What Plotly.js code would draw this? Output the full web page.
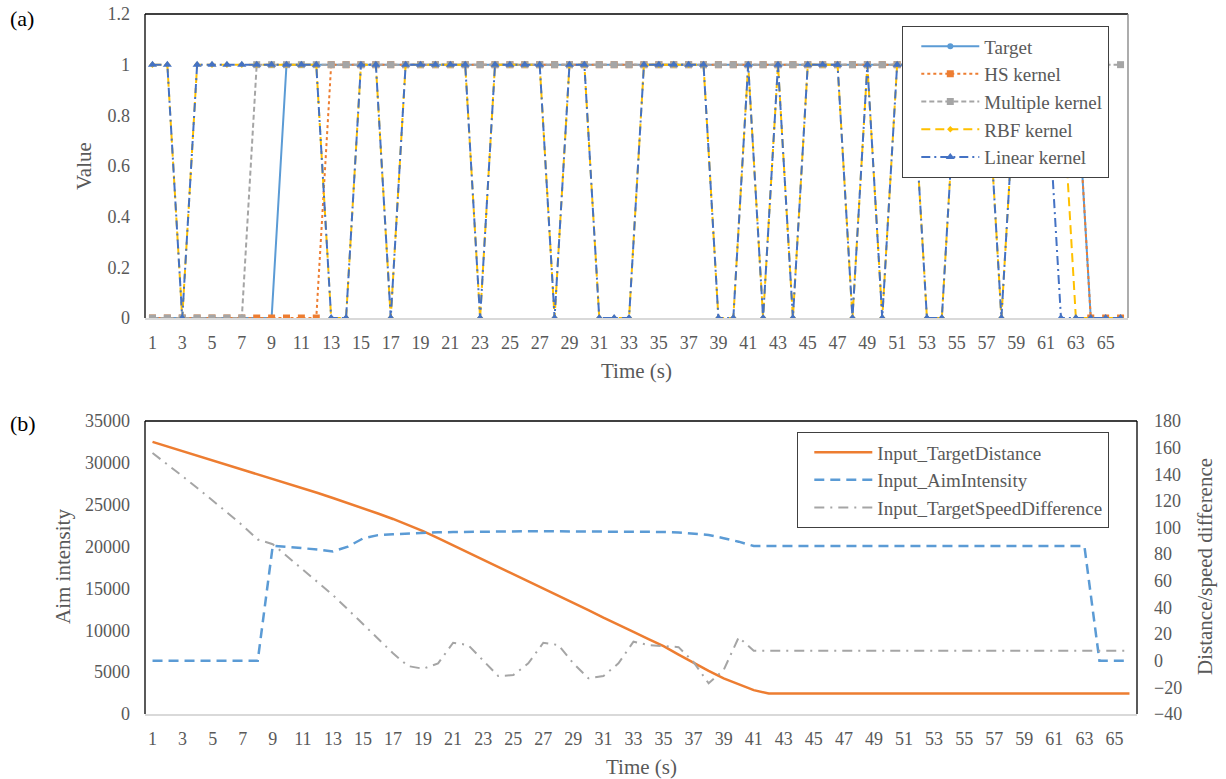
<!DOCTYPE html>
<html>
<head>
<meta charset="utf-8">
<script src="https://cdn.plot.ly/plotly-3.0.1.min.js"></script>
<style>html,body{margin:0;padding:0;background:#fff;}#chart{width:1226px;height:779px;}</style>
</head>
<body>
<div id="chart"></div>
<script>
// ---- data ----
const time = [1,2,3,4,5,6,7,8,9,10,11,12,13,14,15,16,17,18,19,20,21,22,23,24,25,26,27,28,29,30,31,32,33,34,35,36,37,38,39,40,41,42,43,44,45,46,47,48,49,50,51,52,53,54,55,56,57,58,59,60,61,62,63,64,65,66];
const timeTicks = [1,3,5,7,9,11,13,15,17,19,21,23,25,27,29,31,33,35,37,39,41,43,45,47,49,51,53,55,57,59,61,63,65];

const target   = [0,0,0,0,0,0,0,0,0,1,1,1,1,1,1,1,1,1,1,1,1,1,1,1,1,1,1,1,1,1,1,1,1,1,1,1,1,1,1,1,1,1,1,1,1,1,1,1,1,1,1,1,1,1,1,1,1,1,1,1,1,1,1,0,0,0];
const hsKernel = [0,0,0,0,0,0,0,0,0,0,0,0,1,1,1,1,1,1,1,1,1,1,1,1,1,1,1,1,1,1,1,1,1,1,1,1,1,1,1,1,1,1,1,1,1,1,1,1,1,1,1,1,1,1,1,1,1,1,1,1,1,1,1,0,0,0];
const multipleKernel = [0,0,0,0,0,0,0,1,1,1,1,1,1,1,1,1,1,1,1,1,1,1,1,1,1,1,1,1,1,1,1,1,1,1,1,1,1,1,1,1,1,1,1,1,1,1,1,1,1,1,1,1,1,1,1,1,1,1,1,1,1,1,1,1,1,1];
const rbfKernel    = [1,1,0,1,1,1,1,1,1,1,1,1,0,0,1,1,0,1,1,1,1,1,0,1,1,1,1,0,1,1,0,0,0,1,1,1,1,1,0,0,1,0,1,0,1,1,1,0,1,0,1,1,0,0,1,1,1,0,1,1,1,1,0,0,0,0];
const linearKernel = [1,1,0,1,1,1,1,1,1,1,1,1,0,0,1,1,0,1,1,1,1,1,0,1,1,1,1,0,1,1,0,0,0,1,1,1,1,1,0,0,1,0,1,0,1,1,1,0,1,0,1,1,0,0,1,1,1,0,1,1,1,0,0,0,0,0];

const targetDistance = [32500,31950,31400,30850,30300,29750,29200,28650,28100,27550,27000,26400,25800,25200,24600,23950,23300,22600,21850,21000,20150,19300,18450,17600,16750,15900,15000,14150,13300,12400,11500,10600,9800,8950,8100,7100,6100,5150,4250,3550,2850,2450,2450,2450,2450,2450,2450,2450,2450,2450,2450,2450,2450,2450,2450,2450,2450,2450,2450,2450,2450,2450,2450,2450,2450,2450];
const aimIntensity = [0,0,0,0,0,0,0,0,86.4,85.5,84.5,83.5,82,85.7,91.8,94.3,95,95.6,96.1,96.4,96.6,96.8,97,97.1,97.2,97.2,97.2,97.2,97.2,97.2,97.2,97.1,97,96.9,96.7,96.3,95.6,94.4,92,89.4,86.1,86.1,86.1,86.1,86.1,86.1,86.1,86.1,86.1,86.1,86.1,86.1,86.1,86.1,86.1,86.1,86.1,86.1,86.1,86.1,86.1,86.1,86.1,0,0,0];
const speedDifference = [156,147.5,138.5,129.5,120.5,111,101.5,91,87.5,78,68.5,59,49.3,38.5,27.5,16.5,5.6,-4,-6,-2,13.5,11.8,0.5,-11.5,-10.8,-2,13.5,11.8,-2,-13.2,-11.5,-2,14.3,11.8,11,10.2,-1,-17,-7,17.6,7.5,7.5,7.5,7.5,7.5,7.5,7.5,7.5,7.5,7.5,7.5,7.5,7.5,7.5,7.5,7.5,7.5,7.5,7.5,7.5,7.5,7.5,7.5,7.5,7.5,7.5];

// ---- styling ----
const W = 1226, H = 779;
const FONT = 'Liberation Serif, serif';
const GRAY_TXT = '#595959';
const px = v => v / W;
const py = v => 1 - v / H;

const traces = [
  {x: time, y: target, name: 'Target', mode: 'lines+markers', xaxis: 'x', yaxis: 'y', legend: 'legend',
   line: {color: '#5B9BD5', width: 2}, marker: {symbol: 'circle', size: 6, color: '#5B9BD5'}},
  {x: time, y: hsKernel, name: 'HS kernel', mode: 'lines+markers', xaxis: 'x', yaxis: 'y', legend: 'legend',
   line: {color: '#ED7D31', width: 2, dash: 'dot'}, marker: {symbol: 'square', size: 7, color: '#ED7D31'}},
  {x: time, y: multipleKernel, name: 'Multiple kernel', mode: 'lines+markers', xaxis: 'x', yaxis: 'y', legend: 'legend',
   line: {color: '#A5A5A5', width: 2, dash: '5px,3px'}, marker: {symbol: 'square', size: 7, color: '#A5A5A5'}},
  {x: time, y: rbfKernel, name: 'RBF kernel', mode: 'lines+markers', xaxis: 'x', yaxis: 'y', legend: 'legend',
   line: {color: '#FFC000', width: 2, dash: '9px,5px'}, marker: {symbol: 'diamond', size: 5, color: '#FFC000'}},
  {x: time, y: linearKernel, name: 'Linear kernel', mode: 'lines+markers', xaxis: 'x', yaxis: 'y', legend: 'legend',
   line: {color: '#4472C4', width: 2, dash: '9px,4px,2px,4px'}, marker: {symbol: 'triangle-up', size: 8, color: '#4472C4'}},

  {x: time, y: targetDistance, name: 'Input_TargetDistance', mode: 'lines', xaxis: 'x2', yaxis: 'y2', legend: 'legend2',
   line: {color: '#ED7D31', width: 2.5}},
  {x: time, y: aimIntensity, name: 'Input_AimIntensity', mode: 'lines', xaxis: 'x2', yaxis: 'y3', legend: 'legend2',
   line: {color: '#5B9BD5', width: 2.5, dash: '10px,6px'}},
  {x: time, y: speedDifference, name: 'Input_TargetSpeedDifference', mode: 'lines', xaxis: 'x2', yaxis: 'y3', legend: 'legend2',
   line: {color: '#A5A5A5', width: 2, dash: '10px,6px,2px,6px'}}
];

const tickFont = {family: FONT, size: 18, color: GRAY_TXT};
const titleFont = {family: FONT, size: 21, color: GRAY_TXT};
const legendFont = {family: FONT, size: 19, color: GRAY_TXT};

const xBase = {
  range: [0.5, 66.5], tickmode: 'array', tickvals: timeTicks, ticktext: timeTicks.map(String),
  showgrid: false, zeroline: false, showline: true, linecolor: '#D9D9D9', linewidth: 1.5,
  ticks: '', tickfont: tickFont, ticklabelstandoff: 8, fixedrange: true
};

const layout = {
  width: W, height: H,
  margin: {l: 0, r: 0, t: 0, b: 0},
  paper_bgcolor: '#fff', plot_bgcolor: '#fff',
  font: {family: FONT, color: GRAY_TXT},
  showlegend: true,
  xaxis: Object.assign({}, xBase, {domain: [px(145), px(1128)], anchor: 'y'}),
  yaxis: {domain: [py(318), py(14)], anchor: 'x', range: [0, 1.2], dtick: 0.2,
          showgrid: false, zeroline: false, showline: false, ticks: '', tickfont: tickFont, ticklabelstandoff: 14, fixedrange: true},
  xaxis2: Object.assign({}, xBase, {domain: [px(145), px(1137)], anchor: 'y2'}),
  yaxis2: {domain: [py(714), py(421)], anchor: 'x2', range: [0, 35000], dtick: 5000, tickformat: 'd',
           showgrid: false, zeroline: false, showline: false, ticks: '', tickfont: tickFont, ticklabelstandoff: 14, fixedrange: true},
  yaxis3: {domain: [py(714), py(421)], anchor: 'x2', overlaying: 'y2', side: 'right', range: [-40, 180], dtick: 20,
           showgrid: false, zeroline: false, showline: false, ticks: '', tickfont: tickFont, ticklabelstandoff: 16, fixedrange: true},
  legend: {x: px(902), y: py(26), xanchor: 'left', yanchor: 'top', bgcolor: '#fff', bordercolor: '#404040', borderwidth: 1.3,
           font: legendFont, tracegroupgap: 0, itemwidth: 58, indentation: 13},
  legend2: {x: px(797), y: py(432), xanchor: 'left', yanchor: 'top', bgcolor: '#fff', bordercolor: '#404040', borderwidth: 1.3,
            font: legendFont, tracegroupgap: 0, itemwidth: 58, indentation: 11},
  shapes: [
    {type: 'line', xref: 'x domain', yref: 'y domain', x0: 0, x1: 1, y0: 1, y1: 1, line: {color: '#000', width: 1.3}},
    {type: 'line', xref: 'x domain', yref: 'y domain', x0: 0, x1: 0, y0: 0, y1: 1, line: {color: '#000', width: 1.3}},
    {type: 'line', xref: 'x domain', yref: 'y domain', x0: 1, x1: 1, y0: 0, y1: 1, line: {color: '#808080', width: 1.3}},
    {type: 'line', xref: 'x2 domain', yref: 'y2 domain', x0: 0, x1: 1, y0: 1, y1: 1, line: {color: '#000', width: 1.3}},
    {type: 'line', xref: 'x2 domain', yref: 'y2 domain', x0: 0, x1: 0, y0: 0, y1: 1, line: {color: '#000', width: 1.3}},
    {type: 'line', xref: 'x2 domain', yref: 'y2 domain', x0: 1, x1: 1, y0: 0, y1: 1, line: {color: '#000', width: 1.3}}
  ],
  annotations: [
    {text: '(a)', xref: 'paper', yref: 'paper', x: px(8), y: py(18), xanchor: 'left', yanchor: 'middle', showarrow: false,
     font: {family: FONT, size: 22, color: '#000'}},
    {text: '(b)', xref: 'paper', yref: 'paper', x: px(8), y: py(423), xanchor: 'left', yanchor: 'middle', showarrow: false,
     font: {family: FONT, size: 22, color: '#000'}},
    {text: 'Value', xref: 'paper', yref: 'paper', x: px(84), y: py(166), textangle: -90, showarrow: false,
     xanchor: 'center', yanchor: 'middle', font: titleFont},
    {text: 'Time (s)', xref: 'paper', yref: 'paper', x: px(636), y: py(371), showarrow: false,
     xanchor: 'center', yanchor: 'middle', font: titleFont},
    {text: 'Aim intensity', xref: 'paper', yref: 'paper', x: px(63), y: py(567), textangle: -90, showarrow: false,
     xanchor: 'center', yanchor: 'middle', font: titleFont},
    {text: 'Distance/speed difference', xref: 'paper', yref: 'paper', x: px(1205), y: py(567), textangle: -90, showarrow: false,
     xanchor: 'center', yanchor: 'middle', font: titleFont},
    {text: 'Time (s)', xref: 'paper', yref: 'paper', x: px(641), y: py(767), showarrow: false,
     xanchor: 'center', yanchor: 'middle', font: titleFont}
  ]
};

Plotly.newPlot('chart', traces, layout, {staticPlot: true, displayModeBar: false});
</script>
</body>
</html>
